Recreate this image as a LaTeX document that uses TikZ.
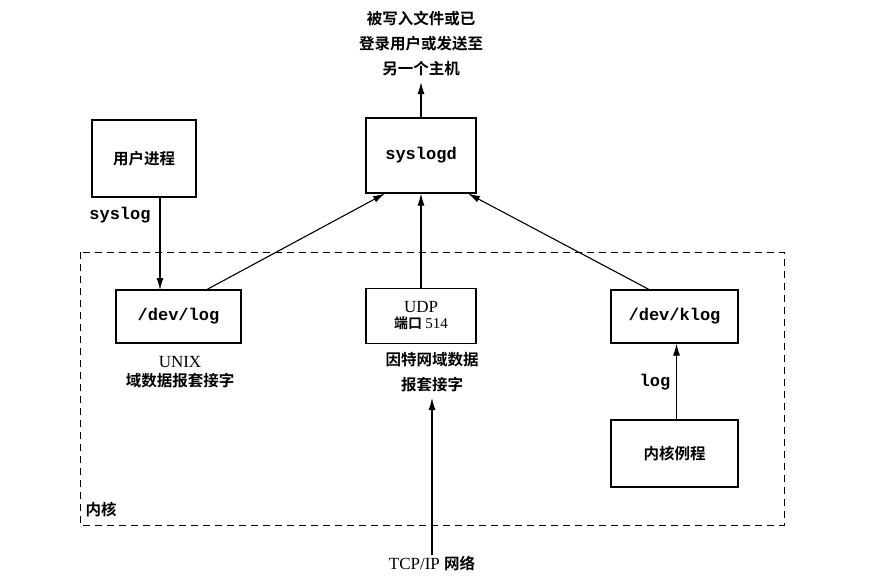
\documentclass[tikz,border=0pt]{standalone}
\usepackage{fontspec}
\setmainfont{Liberation Serif}
\setmonofont{Liberation Mono}
\newfontfamily\cjk{Noto Sans CJK SC Bold}
\usetikzlibrary{arrows.meta}
\begin{document}
\begin{tikzpicture}[x=1pt,y=-1pt,
 box/.style={draw,line width=1.1pt,inner sep=0pt},
 arr/.style={line width=1.1pt,-{Latex[length=12pt,width=7pt]}},
 lab/.style={font=\cjk\fontsize{15.5}{25}\selectfont,align=center,inner sep=0pt},
 mono/.style={font=\ttfamily\bfseries\fontsize{17}{19}\selectfont,inner sep=0pt}]
\useasboundingbox (0,0) rectangle (874,584);
\draw[line width=1pt,dash pattern=on 7pt off 5pt] (80,252) rectangle (784,525);
\node[box,minimum width=104pt,minimum height=77pt,lab] (up) at (144,158.5) {用户进程};
\node[box,minimum width=110pt,minimum height=75pt,mono] (sd) at (421,155.5) {syslogd};
\node[box,minimum width=125pt,minimum height=53pt,mono] (dl) at (178.5,316.5) {/dev/log};
\node[box,minimum width=110pt,minimum height=55pt,align=center,inner sep=0pt] (udp) at (421,316) {{\fontsize{17}{19}\selectfont UDP}\\[3pt]{\cjk\fontsize{14}{16}\selectfont 端口 }{\fontsize{15}{16}\selectfont 514}};
\node[box,minimum width=127pt,minimum height=53pt,mono] (kl) at (674.5,316.5) {/dev/klog};
\node[box,minimum width=127pt,minimum height=67pt,lab] (kr) at (674.5,453.5) {内核例程};
\node[lab] (top) at (421,44) {被写入文件或已\\登录用户或发送至\\另一个主机};
\node[mono] (sl) at (120,215) {syslog};
\node[align=center,inner sep=0pt] (unix) at (180,372) {{\fontsize{17}{19}\selectfont UNIX}\\[4pt]{\cjk\fontsize{15.5}{18}\selectfont 域数据报套接字}};
\node[lab] (inet) at (432,372) {因特网域数据\\报套接字};
\node[mono] (lg) at (655,382) {log};
\node[lab] (nh) at (101,510) {内核};
\node[inner sep=0pt] (tcp) at (432,563) {{\fontsize{17}{19}\selectfont TCP/IP }{\cjk\fontsize{15.5}{18}\selectfont 网络}};
\coordinate (topend) at (421,82);
\coordinate (inetend) at (432,398);
\draw[arr] (sd.north) -- (topend);
\draw[arr] (160,197) -- (160,290);
\draw[arr] (206,290) -- (385,193.5);
\draw[arr] (udp.north) -- (sd.south);
\draw[arr] (650,290) -- (468,193.5);
\draw[arr] ([xshift=2pt]kr.north) -- ([xshift=2pt]kl.south);
\draw[arr] (tcp.north) -- (inetend);
\end{tikzpicture}
\end{document}
